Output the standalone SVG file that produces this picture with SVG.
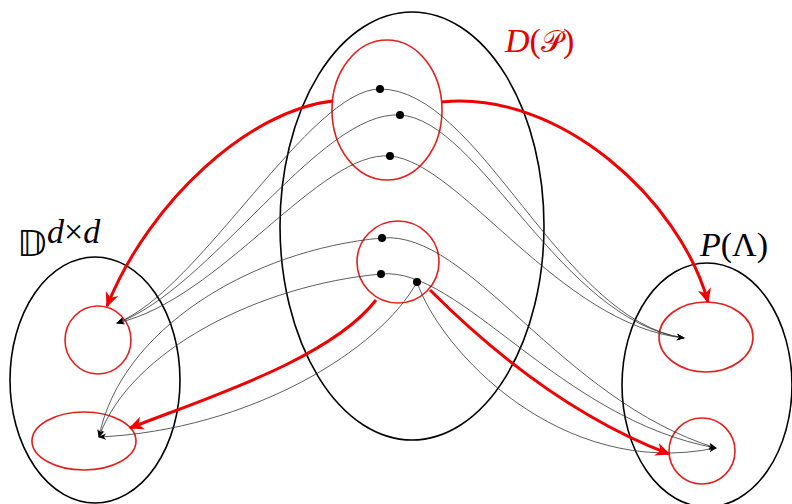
<svg xmlns="http://www.w3.org/2000/svg" width="792" height="504" viewBox="0 0 792 504">
<defs>
<marker id="ab" viewBox="0 0 10 10" refX="9" refY="5" markerWidth="8" markerHeight="8" markerUnits="userSpaceOnUse" orient="auto"><path d="M0,1 L10,5 L0,9 L3,5 Z" fill="#000"/></marker>
<marker id="ar" viewBox="0 0 10 10" refX="9" refY="5" markerWidth="15" markerHeight="15" markerUnits="userSpaceOnUse" orient="auto"><path d="M0,0.5 L10,5 L0,9.5 L3,5 Z" fill="#e00"/></marker>
<style>
.big{fill:none;stroke:#000;stroke-width:1.6}
.red{fill:none;stroke:#e02020;stroke-width:1.6}
.thin{fill:none;stroke:#333;stroke-width:0.8;marker-end:url(#ab)}
.thick{fill:none;stroke:#e00;stroke-width:3;marker-end:url(#ar)}
.dot{fill:#000}
.lbl{font-family:"Liberation Serif","DejaVu Serif",serif;font-size:34px}
.it{font-style:italic}
</style>
</defs>
<g id="center">
<ellipse class="big" cx="412" cy="226" rx="132" ry="214"/>
<ellipse class="red" cx="387" cy="110" rx="55" ry="70"/>
<circle class="red" cx="398" cy="262" r="41"/>
</g>
<g id="left">
<ellipse class="big" cx="95" cy="380" rx="85" ry="123"/>
<ellipse class="red" cx="98" cy="340" rx="33" ry="34"/>
<ellipse class="red" cx="84" cy="441" rx="52" ry="29"/>
</g>
<g id="right">
<ellipse class="big" cx="707" cy="385" rx="85" ry="122"/>
<ellipse class="red" cx="706" cy="337" rx="47" ry="35"/>
<circle class="red" cx="702" cy="451" r="33"/>
</g>
<g id="labels">
<text class="lbl" x="505" y="52" fill="#e00000"><tspan class="it">D</tspan>(<tspan font-family="DejaVu Sans" font-size="30">𝒫</tspan>)</text>
<text class="lbl" x="700" y="256" fill="#000"><tspan class="it">P</tspan>(Λ)</text>
<text x="17" y="256" font-family="DejaVu Sans,serif" font-size="36">𝔻</text>
<text class="lbl it" x="47" y="243" font-size="24">d<tspan font-style="normal">×</tspan>d</text>
</g>
<g id="connectors">
<path class="thin" d="M380 89 C310 89 200 290 117 323"/>
<path class="thin" d="M400 115 C320 110 210 290 117 323"/>
<path class="thin" d="M390 156 C320 150 220 300 117 323"/>
<path class="thin" d="M380 89 C480 89 560 320 684 338"/>
<path class="thin" d="M400 115 C480 120 560 320 684 338"/>
<path class="thin" d="M390 156 C460 162 560 325 684 338"/>
<path class="thin" d="M382 238 C250 250 120 330 99 437"/>
<path class="thin" d="M381 274 C260 285 130 350 99 437"/>
<path class="thin" d="M417 282 C380 350 250 430 99 437"/>
<path class="thin" d="M382 238 C470 230 560 400 716 448"/>
<path class="thin" d="M381 274 C460 266 560 420 716 448"/>
<path class="thin" d="M417 282 C440 350 560 480 716 448"/>
<path class="thick" d="M333 101 C250 110 150 200 107 306"/>
<path class="thick" d="M442 102 C560 90 680 200 708 302"/>
<path class="thick" d="M376 300 C330 360 200 400 130 428"/>
<path class="thick" d="M430 290 C500 360 580 420 669 454"/>
</g>
<g id="dots">
<circle class="dot" cx="380" cy="89" r="4"/>
<circle class="dot" cx="400" cy="115" r="4"/>
<circle class="dot" cx="390" cy="156" r="4"/>
<circle class="dot" cx="382" cy="238" r="4"/>
<circle class="dot" cx="381" cy="274" r="4"/>
<circle class="dot" cx="417" cy="282" r="4"/>
</g>
</svg>
